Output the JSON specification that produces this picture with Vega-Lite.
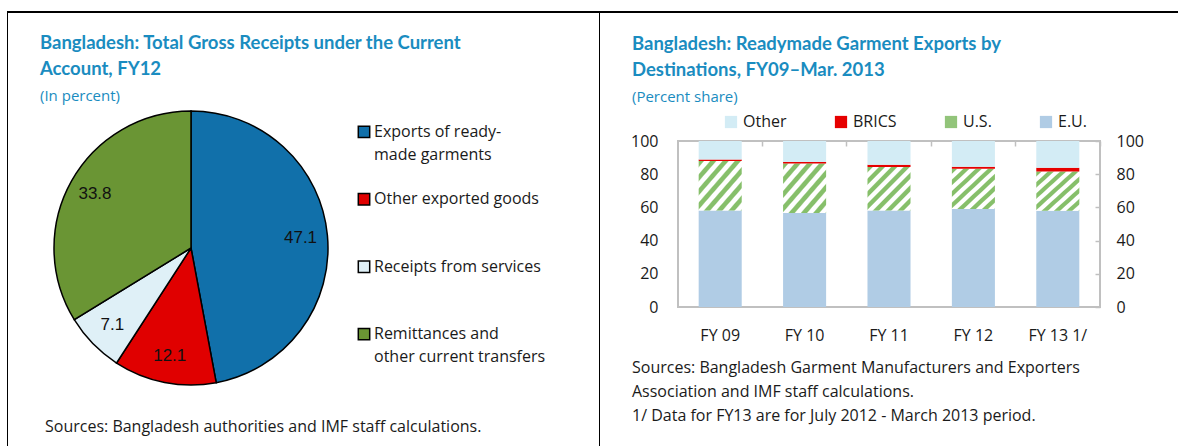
{
  "$schema": "https://vega.github.io/schema/vega-lite/v6.json",
  "padding": {"left": 7, "top": 11, "right": 0, "bottom": 0},
  "background": "white",
  "config": {
    "font": "Open Sans",
    "view": {"stroke": null},
    "concat": {"spacing": 0},
    "title": {"font": "Lato", "fontSize": 18.5, "fontWeight": "bold", "color": "#1a8cc0", "anchor": "start", "lineHeight": 26, "subtitleFont": "Open Sans", "subtitleFontSize": 15, "subtitleColor": "#1a8cc0", "subtitlePadding": 11, "offset": 4},
    "axis": {"labelFont": "Open Sans", "labelFontSize": 16, "labelColor": "#1a1a1a", "grid": false}
  },
  "resolve": {"scale": {"fill": "independent"}, "legend": {"fill": "independent"}},
  "datasets": {
    "none": [],
    "pie": [
      {"category": "Exports of ready-made garments", "share": 47.1, "idx": 1, "line1": "Exports of ready-", "line2": "made garments"},
      {"category": "Other exported goods", "share": 12.1, "idx": 2, "line1": "Other exported goods", "line2": ""},
      {"category": "Receipts from services", "share": 7.1, "idx": 3, "line1": "Receipts from services", "line2": ""},
      {"category": "Remittances and other current transfers", "share": 33.8, "idx": 4, "line1": "Remittances and", "line2": "other current transfers"}
    ],
    "rmg": [
      {"year": "FY 09", "series": "E.U.", "rank": 1, "share": 58.2},
      {"year": "FY 09", "series": "U.S.", "rank": 2, "share": 29.8},
      {"year": "FY 09", "series": "BRICS", "rank": 3, "share": 0.8},
      {"year": "FY 09", "series": "Other", "rank": 4, "share": 11.2},
      {"year": "FY 10", "series": "E.U.", "rank": 1, "share": 56.6},
      {"year": "FY 10", "series": "U.S.", "rank": 2, "share": 29.9},
      {"year": "FY 10", "series": "BRICS", "rank": 3, "share": 0.8},
      {"year": "FY 10", "series": "Other", "rank": 4, "share": 12.7},
      {"year": "FY 11", "series": "E.U.", "rank": 1, "share": 58.1},
      {"year": "FY 11", "series": "U.S.", "rank": 2, "share": 26.3},
      {"year": "FY 11", "series": "BRICS", "rank": 3, "share": 1.3},
      {"year": "FY 11", "series": "Other", "rank": 4, "share": 14.3},
      {"year": "FY 12", "series": "E.U.", "rank": 1, "share": 59.0},
      {"year": "FY 12", "series": "U.S.", "rank": 2, "share": 24.3},
      {"year": "FY 12", "series": "BRICS", "rank": 3, "share": 1.2},
      {"year": "FY 12", "series": "Other", "rank": 4, "share": 15.5},
      {"year": "FY 13 1/", "series": "E.U.", "rank": 1, "share": 58.0},
      {"year": "FY 13 1/", "series": "U.S.", "rank": 2, "share": 23.6},
      {"year": "FY 13 1/", "series": "BRICS", "rank": 3, "share": 2.3},
      {"year": "FY 13 1/", "series": "Other", "rank": 4, "share": 16.1}
    ]
  },
  "vconcat": [
    {"data": {"name": "none"}, "width": 1171, "height": 2, "view": {"fill": "black", "stroke": null}, "mark": "point", "encoding": {}},
    {
      "spacing": 29,
      "resolve": {"scale": {"fill": "independent"}, "legend": {"fill": "independent"}},
      "hconcat": [
        {
          "spacing": 32,
          "hconcat": [
            {"data": {"name": "none"}, "width": 1, "height": 433, "view": {"fill": "black", "stroke": null}, "mark": "point", "encoding": {}},
            {
              "spacing": 0,
              "vconcat": [
                {"data": {"name": "none"}, "width": 1, "height": 20, "mark": "point", "encoding": {}},
                {
                  "title": {"text": ["Bangladesh: Total Gross Receipts under the Current", "Account, FY12"], "subtitle": "(In percent)"},
                  "spacing": 10,
                  "hconcat": [
                    {
                      "data": {"name": "pie"},
                      "width": 302,
                      "height": 274,
                      "encoding": {
                        "theta": {"field": "share", "type": "quantitative", "stack": true},
                        "order": {"field": "idx", "type": "quantitative"}
                      },
                      "layer": [
                        {
                          "mark": {"type": "arc", "outerRadius": 137, "stroke": "black", "strokeWidth": 1.5},
                          "encoding": {
                            "fill": {"field": "category", "type": "nominal", "legend": null,
                              "scale": {"domain": ["Exports of ready-made garments", "Other exported goods", "Receipts from services", "Remittances and other current transfers"], "range": ["#1170aa", "#e00000", "#dff0f7", "#6a9534"]}}
                          }
                        },
                        {
                          "mark": {"type": "text", "radius": 110, "font": "Liberation Sans", "fontSize": 17, "color": "#111111"},
                          "encoding": {"text": {"field": "share", "type": "quantitative", "format": ".1f"}}
                        }
                      ]
                    },
                    {
                      "data": {"name": "pie"},
                      "width": 24,
                      "height": 244,
                      "encoding": {
                        "y": {"field": "category", "type": "nominal", "axis": null,
                          "sort": ["Exports of ready-made garments", "Other exported goods", "Receipts from services", "Remittances and other current transfers"],
                          "scale": {"type": "point", "padding": 0.31}}
                      },
                      "layer": [
                        {
                          "mark": {"type": "square", "size": 130, "stroke": "black", "strokeWidth": 1.5, "opacity": 1},
                          "encoding": {
                            "fill": {"field": "category", "type": "nominal", "legend": null,
                              "scale": {"domain": ["Exports of ready-made garments", "Other exported goods", "Receipts from services", "Remittances and other current transfers"], "range": ["#1170aa", "#e00000", "#dff0f7", "#6a9534"]}}
                          }
                        },
                        {
                          "mark": {"type": "text", "align": "left", "baseline": "middle", "dx": 10, "fontSize": 16, "color": "#1a1a1a"},
                          "encoding": {"text": {"field": "line1"}}
                        },
                        {
                          "mark": {"type": "text", "align": "left", "baseline": "middle", "dx": 10, "dy": 23, "fontSize": 16, "color": "#1a1a1a"},
                          "encoding": {"text": {"field": "line2"}}
                        }
                      ]
                    }
                  ]
                },
                {
                  "data": {"name": "none"}, "width": 527, "height": 31, "mark": "point", "encoding": {},
                  "title": {"text": "Sources: Bangladesh authorities and IMF staff calculations.", "orient": "bottom", "anchor": "start", "font": "Open Sans", "fontSize": 16, "fontWeight": "normal", "color": "#1a1a1a", "dx": 5, "offset": 0}
                }
              ]
            },
            {"data": {"name": "none"}, "width": 1, "height": 433, "view": {"fill": "black", "stroke": null}, "mark": "point", "encoding": {}}
          ]
        },
        {
          "spacing": 0,
          "resolve": {"scale": {"fill": "independent"}, "legend": {"fill": "independent"}},
          "vconcat": [
            {"data": {"name": "none"}, "width": 1, "height": 20, "mark": "point", "encoding": {}},
            {
              "data": {"name": "rmg"},
              "width": 422,
              "height": 166,
              "view": {"stroke": "#c0c0c0", "strokeWidth": 2},
              "title": {"text": ["Bangladesh: Readymade Garment Exports by", "Destinations, FY09–Mar. 2013"], "subtitle": "(Percent share)", "frame": "group", "dx": -46, "offset": 9},
              "layer": [
                {
                  "mark": {"type": "bar"},
                  "encoding": {
                    "x": {"field": "year", "type": "nominal", "sort": null, "title": null,
                      "scale": {"paddingInner": 0.49, "paddingOuter": 0.245},
                      "axis": {"labelAngle": 0, "ticks": false, "domain": false, "labelPadding": 20}},
                    "y": {"field": "share", "type": "quantitative", "stack": "zero", "title": null,
                      "scale": {"domain": [0, 100]},
                      "axis": {"orient": "left", "values": [0, 20, 40, 60, 80, 100], "ticks": false, "domain": false, "labelPadding": 20}},
                    "order": {"field": "rank", "type": "quantitative"},
                    "fill": {"field": "series", "type": "nominal",
                      "scale": {"domain": ["Other", "BRICS", "U.S.", "E.U."], "range": ["#d3ecf5", "#e60000", "#92c47a", "#b0cce5"]},
                      "legend": {"orient": "none", "legendX": 45, "legendY": -27, "direction": "horizontal", "columns": 4, "gridAlign": "none", "columnPadding": 46, "title": null, "symbolType": "square", "symbolSize": 150, "symbolStrokeWidth": 0, "labelFontSize": 16, "labelColor": "#1a1a1a", "labelOffset": 4, "padding": 0},
                      "condition": {"test": "datum.series === 'U.S.'", "value": {"gradient": "linear", "x1": 0, "y1": 0, "x2": 1, "y2": 1, "stops": [
                        {"offset": 0, "color": "#86bf6a"}, {"offset": 0.054, "color": "#86bf6a"}, {"offset": 0.071, "color": "#ffffff"}, {"offset": 0.126, "color": "#ffffff"},
                        {"offset": 0.143, "color": "#86bf6a"}, {"offset": 0.197, "color": "#86bf6a"}, {"offset": 0.214, "color": "#ffffff"}, {"offset": 0.269, "color": "#ffffff"},
                        {"offset": 0.286, "color": "#86bf6a"}, {"offset": 0.340, "color": "#86bf6a"}, {"offset": 0.357, "color": "#ffffff"}, {"offset": 0.411, "color": "#ffffff"},
                        {"offset": 0.429, "color": "#86bf6a"}, {"offset": 0.483, "color": "#86bf6a"}, {"offset": 0.500, "color": "#ffffff"}, {"offset": 0.554, "color": "#ffffff"},
                        {"offset": 0.571, "color": "#86bf6a"}, {"offset": 0.626, "color": "#86bf6a"}, {"offset": 0.643, "color": "#ffffff"}, {"offset": 0.697, "color": "#ffffff"},
                        {"offset": 0.714, "color": "#86bf6a"}, {"offset": 0.769, "color": "#86bf6a"}, {"offset": 0.786, "color": "#ffffff"}, {"offset": 0.840, "color": "#ffffff"},
                        {"offset": 0.857, "color": "#86bf6a"}, {"offset": 0.911, "color": "#86bf6a"}, {"offset": 0.929, "color": "#ffffff"}, {"offset": 0.983, "color": "#ffffff"},
                        {"offset": 1, "color": "#86bf6a"}
                      ]}}
                    }
                  }
                },
                {
                  "mark": {"type": "bar", "opacity": 0},
                  "encoding": {
                    "x": {"field": "year", "type": "nominal", "sort": null, "title": null,
                      "scale": {"paddingInner": 0.49, "paddingOuter": 0.245},
                      "axis": {"labels": false, "domain": false, "ticks": true, "tickSize": -5, "tickColor": "#c0c0c0", "tickWidth": 1.5, "bandPosition": 1.4804}},
                    "y": {"field": "share", "type": "quantitative", "stack": "zero", "title": null,
                      "scale": {"domain": [0, 100]},
                      "axis": {"orient": "right", "values": [0, 20, 40, 60, 80, 100], "ticks": true, "tickSize": -5, "tickColor": "#c0c0c0", "tickWidth": 1.5, "domain": false, "labelPadding": 21}},
                    "order": {"field": "rank", "type": "quantitative"},
                    "detail": {"field": "series"}
                  }
                }
              ],
              "resolve": {"axis": {"x": "independent", "y": "independent"}}
            },
            {
              "data": {"name": "none"}, "width": 440, "height": 16, "mark": "point", "encoding": {},
              "title": {"text": ["Sources: Bangladesh Garment Manufacturers and Exporters", "Association and IMF staff calculations.", "1/ Data for FY13 are for July 2012 - March 2013 period."], "orient": "bottom", "anchor": "start", "font": "Open Sans", "fontSize": 16, "fontWeight": "normal", "color": "#1a1a1a", "lineHeight": 24, "offset": 0, "dx": -46}
            }
          ]
        }
      ]
    }
  ]
}
